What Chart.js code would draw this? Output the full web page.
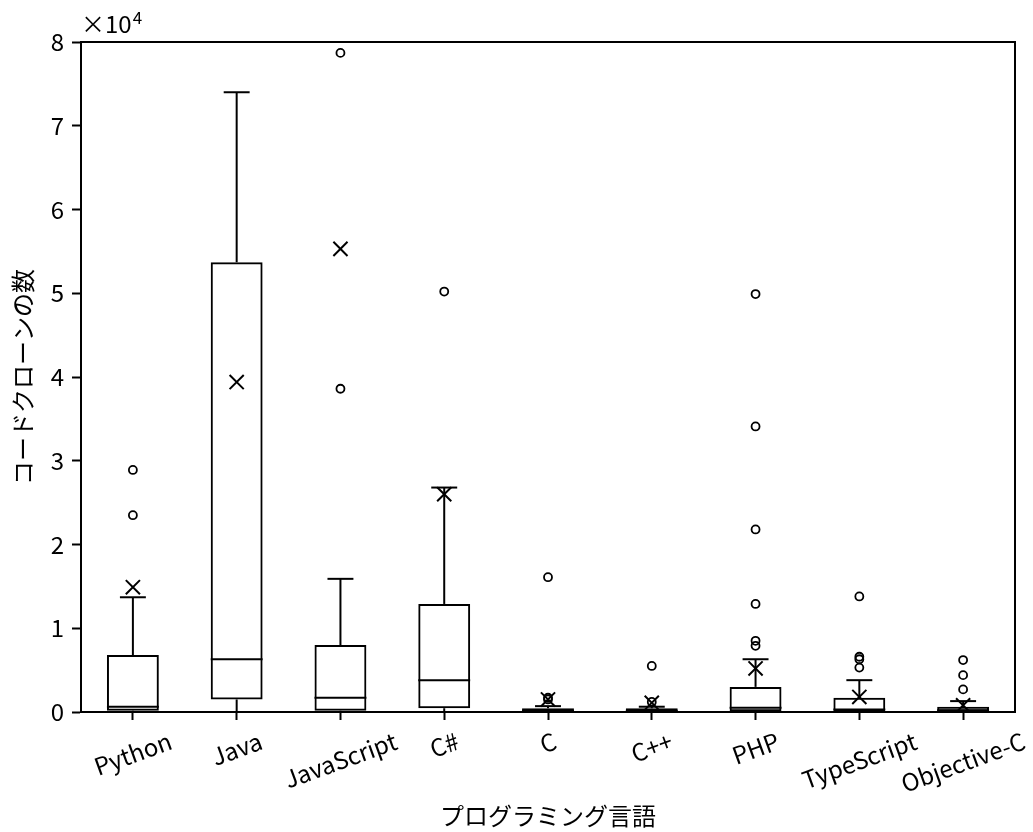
<!DOCTYPE html>
<html>
<head>
<meta charset="utf-8">
<script src="https://cdn.jsdelivr.net/npm/chart.js@4.4.0/dist/chart.umd.min.js"></script>
<style>
  html, body { margin: 0; padding: 0; background: #fff; }
  #wrap { width: 1033px; height: 832px; }
</style>
</head>
<body>
<div id="wrap"><canvas id="boxChart"></canvas></div>
<script>
// ===== データ =====
const categories = ["Python", "Java", "JavaScript", "C#", "C", "C++", "PHP", "TypeScript", "Objective-C"];
const whiskerLow  = [0, 0, 0, 0, 0, 0, 0, 0, 0];
const q1          = [150, 1500, 150, 450, 50, 50, 100, 100, 50];
const medians     = [630, 6300, 1700, 3800, 150, 150, 500, 300, 200];
const q3          = [6800, 53700, 8000, 12900, 440, 440, 3000, 1700, 630];
const whiskerHigh = [13700, 74000, 15900, 26800, 700, 630, 6300, 3800, 1300];
const means       = [14900, 39400, 55300, 26000, 1500, 1100, 5200, 1800, 800];
const outliers = [
    [28900, 23500],
    [],
    [78700, 38600],
    [50200],
    [1500, 1700, 16100],
    [1200, 5500],
    [49900, 34100, 21800, 12900, 8500, 7900],
    [13800, 6600, 6300, 5300],
    [6200, 4400, 2700]
];
const yTicks = [0, 10000, 20000, 30000, 40000, 50000, 60000, 70000, 80000];

const FONT = "'Noto Sans CJK JP', 'Noto Sans', sans-serif";
const FONT_SIZE = 24;
Chart.defaults.font.family = FONT;
Chart.defaults.color = "#000";

// 外れ値を点データにする
const outlierPoints = [];
outliers.forEach((list, i) => {
    list.forEach(v => outlierPoints.push({ x: categories[i], y: v }));
});

// ひげ・キャップ・中央値を描くプラグイン
const boxParts = {
    id: "boxParts",
    beforeDatasetsDraw(chart) {
        const { ctx, scales: { x, y } } = chart;
        const band = x.getPixelForValue(1) - x.getPixelForValue(0);
        ctx.save();
        ctx.strokeStyle = "#000";
        ctx.lineWidth = 2;
        const line = (x1, y1, x2, y2) => {
            ctx.beginPath();
            ctx.moveTo(x1, y1);
            ctx.lineTo(x2, y2);
            ctx.stroke();
        };
        categories.forEach((c, i) => {
            const cx = x.getPixelForValue(i);
            const capHalf = band * 0.125;
            const boxHalf = band * 0.25;
            // ひげ
            line(cx, y.getPixelForValue(q3[i]), cx, y.getPixelForValue(whiskerHigh[i]));
            line(cx, y.getPixelForValue(q1[i]), cx, y.getPixelForValue(whiskerLow[i]));
            // キャップ
            line(cx - capHalf, y.getPixelForValue(whiskerHigh[i]), cx + capHalf, y.getPixelForValue(whiskerHigh[i]));
            line(cx - capHalf, y.getPixelForValue(whiskerLow[i]), cx + capHalf, y.getPixelForValue(whiskerLow[i]));
            // 中央値
            line(cx - boxHalf, y.getPixelForValue(medians[i]), cx + boxHalf, y.getPixelForValue(medians[i]));
        });
        ctx.restore();
    },
    afterDraw(chart) {
        const { ctx, chartArea: a, scales: { x } } = chart;
        ctx.save();
        // 枠 (上・右)
        ctx.strokeStyle = "#000";
        ctx.lineWidth = 2;
        ctx.beginPath();
        ctx.moveTo(a.left, a.top);
        ctx.lineTo(a.right, a.top);
        ctx.lineTo(a.right, a.bottom);
        ctx.stroke();

        // x 軸ラベル (20度回転, 中央揃え)
        ctx.fillStyle = "#000";
        ctx.font = FONT_SIZE + "px " + FONT;
        const rot = 20 * Math.PI / 180;
        const h = FONT_SIZE * 1.15;
        const top = a.bottom + 15;
        categories.forEach((c, i) => {
            const w = ctx.measureText(c).width;
            const bh = w * Math.sin(rot) + h * Math.cos(rot);
            ctx.save();
            ctx.translate(x.getPixelForValue(i), top + bh / 2);
            ctx.rotate(-rot);
            ctx.textAlign = "center";
            ctx.textBaseline = "middle";
            ctx.fillText(c, 0, 0);
            ctx.restore();
        });

        // 軸タイトル
        ctx.textAlign = "center";
        ctx.textBaseline = "middle";
        ctx.fillText("プログラミング言語", (a.left + a.right) / 2, 816);
        ctx.save();
        ctx.translate(23, (a.top + a.bottom) / 2);
        ctx.rotate(-Math.PI / 2);
        ctx.fillText("コードクローンの数", 0, 0);
        ctx.restore();

        // ×10^4
        ctx.textAlign = "left";
        ctx.textBaseline = "alphabetic";
        ctx.fillText("×10", 81, 33);
        const w10 = ctx.measureText("×10").width;
        ctx.font = "17px " + FONT;
        ctx.fillText("4", 81 + w10 + 1, 24);
        ctx.restore();
    }
};

const boxChart = new Chart(document.getElementById("boxChart"), {
    type: "bar",
    data: {
        labels: categories,
        datasets: [
            {
                label: "box",
                data: q1.map((v, i) => [v, q3[i]]),
                backgroundColor: "rgba(0,0,0,0)",
                borderColor: "#000",
                borderWidth: 2,
                borderSkipped: false,
                barPercentage: 0.5,
                categoryPercentage: 1,
                order: 3
            },
            {
                type: "line",
                label: "mean",
                data: means,
                showLine: false,
                pointStyle: "crossRot",
                pointRadius: 10,
                pointBorderWidth: 2,
                borderColor: "#000",
                backgroundColor: "#000",
                order: 1
            },
            {
                type: "line",
                label: "outlier",
                data: outlierPoints,
                showLine: false,
                pointStyle: "circle",
                pointRadius: 4,
                pointBorderWidth: 1.8,
                borderColor: "#000",
                backgroundColor: "rgba(0,0,0,0)",
                order: 2
            }
        ]
    },
    options: {
        responsive: true,
        maintainAspectRatio: false,
        animation: false,
        events: [],
        layout: { padding: { left: 0, top: 42, right: 18, bottom: 0 } },
        plugins: {
            legend: { display: false },
            tooltip: { enabled: false }
        },
        scales: {
            x: {
                grid: { display: true, offset: false, drawOnChartArea: false, drawTicks: true, tickLength: 8, tickColor: "#000", tickWidth: 2 },
                border: { display: true, color: "#000", width: 2 },
                ticks: { display: false },
                afterFit: scale => { scale.height = 120; }
            },
            y: {
                min: 0,
                max: 80000,
                afterBuildTicks: scale => { scale.ticks = yTicks.map(v => ({ value: v })); },
                grid: { display: true, drawOnChartArea: false, drawTicks: true, tickLength: 9, tickColor: "#000", tickWidth: 2 },
                border: { display: true, color: "#000", width: 2 },
                ticks: {
                    padding: 8,
                    font: { size: FONT_SIZE },
                    color: "#000",
                    callback: value => value / 10000
                },
                afterFit: scale => { scale.width = 81; }
            }
        }
    },
    plugins: [boxParts]
});
</script>
</body>
</html>
